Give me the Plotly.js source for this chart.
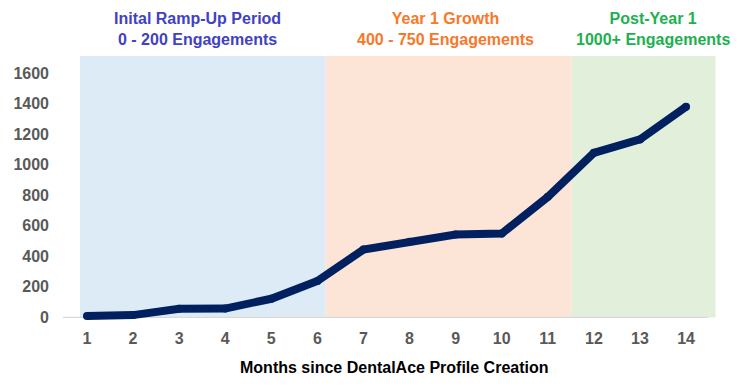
<!DOCTYPE html>
<html>
<head>
<meta charset="utf-8">
<script src="https://cdn.plot.ly/plotly-3.0.1.min.js"></script>
<style>html,body{margin:0;padding:0;background:#fff;}#chart{width:737px;height:386px;}</style>
</head>
<body>
<div id="chart"></div>
<script>
const months = [1,2,3,4,5,6,7,8,9,10,11,12,13,14];
const engagements = [10,15,57,58,122,238,444,495,542,549,789,1077,1165,1379];
const yTicks = [0,200,400,600,800,1000,1200,1400,1600];
const regionNames = ['Inital Ramp-Up Period','Year 1 Growth','Post-Year 1'];
const regionRanges = ['0 - 200 Engagements','400 - 750 Engagements','1000+ Engagements'];
const regionBounds = [0.85, 6.18, 11.52, 14.64];
const regionFills = ['#DDEBF7','#FCE4D6','#E2EFDA'];
const regionTextColors = ['#4141C4','#F8782A','#1DB050'];
const regionLabelX = [3.39, 8.79, 13.28];
const xAxisTitle = 'Months since DentalAce Profile Creation';
const shadeTop = 1711;

const FONT = 'Liberation Sans, Arial, sans-serif';

const shapes = regionFills.map((c,i)=>({
  type:'rect', xref:'x', yref:'y', layer:'below',
  x0: regionBounds[i], x1: regionBounds[i+1], y0: 0, y1: shadeTop,
  fillcolor: c, line:{width:0}
}));
shapes.push({type:'line', xref:'x', yref:'y', layer:'below', x0:0.48, x1:14.48, y0:0, y1:0, line:{color:'#D9D9D9', width:1.3}});

const annotations = regionNames.map((n,i)=>({
  xref:'x', yref:'paper', x: regionLabelX[i], y: 1.102, yanchor:'middle', xanchor:'center',
  text:'<b>'+n+'<br>'+regionRanges[i]+'</b>', showarrow:false,
  font:{family:FONT, size:16, color: regionTextColors[i]}
}));
annotations.push({
  xref:'paper', yref:'paper', x:0.507, y:-0.171, xanchor:'center', yanchor:'middle',
  text:'<b>'+xAxisTitle+'</b>', showarrow:false,
  font:{family:FONT, size:16, color:'#000000'}
});

const trace = {
  x: months, y: engagements, type:'scatter', mode:'lines+markers',
  line:{color:'#002060', width:8, shape:'linear'},
  marker:{color:'#002060', size:8, line:{width:0}},
  hoverinfo:'skip'
};

const layout = {
  width:737, height:386,
  margin:{l:63, r:21, t:56, b:64.4},
  paper_bgcolor:'#ffffff', plot_bgcolor:'rgba(0,0,0,0)',
  showlegend:false,
  font:{family:FONT},
  xaxis:{
    range:[0.48, 14.65], tickvals: months, ticktext: months.map(m=>'<b>'+m+'</b>'),
    showgrid:false, zeroline:false, showline:false, ticks:'',
    tickfont:{family:FONT, size:16, color:'#595959'},
    ticklabelstandoff: 5
  },
  yaxis:{
    range:[-30, shadeTop], tickvals: yTicks, ticktext: yTicks.map(v=>'<b>'+v+'</b>'),
    showgrid:false, zeroline:false, showline:false, ticks:'',
    tickfont:{family:FONT, size:16, color:'#595959'},
    ticklabelstandoff: 13
  },
  shapes: shapes,
  annotations: annotations
};

Plotly.newPlot('chart', [trace], layout, {staticPlot:true, displayModeBar:false});
</script>
</body>
</html>
